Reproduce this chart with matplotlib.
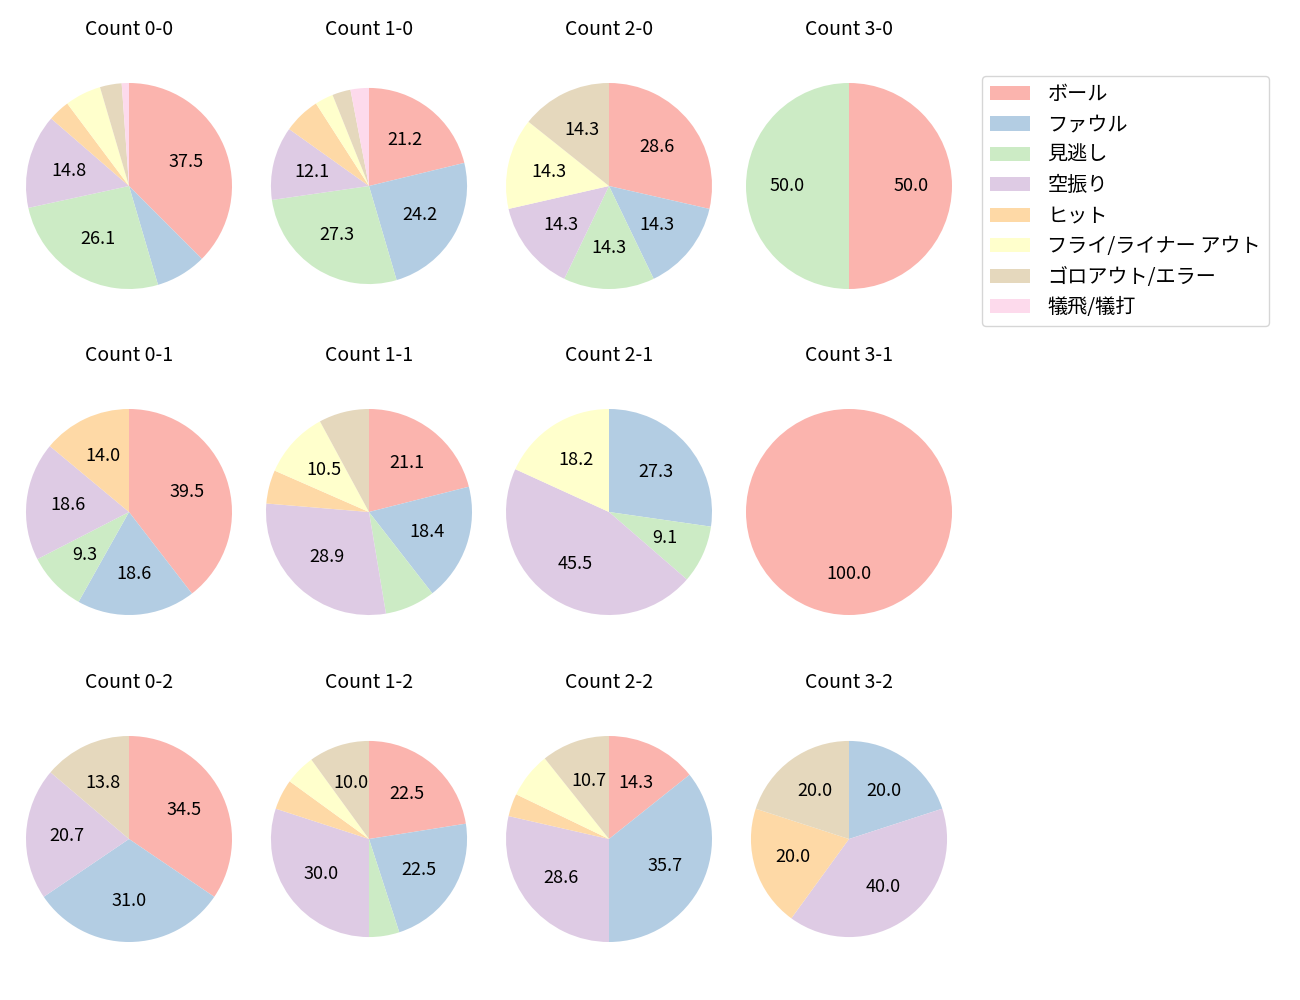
import matplotlib
matplotlib.use("Agg")
import matplotlib.pyplot as plt

plt.rcParams['font.family'] = ['Noto Sans CJK JP', 'DejaVu Sans']

categories = ['ボール', 'ファウル', '見逃し', '空振り', 'ヒット',
              'フライ/ライナー アウト', 'ゴロアウト/エラー', '犠飛/犠打']
colors = ['#fbb4ae', '#b3cde3', '#ccebc5', '#decbe4', '#fed9a6',
          '#ffffcc', '#e5d8bd', '#fddaec']

titles = ['Count 0-0', 'Count 1-0', 'Count 2-0', 'Count 3-0',
          'Count 0-1', 'Count 1-1', 'Count 2-1', 'Count 3-1',
          'Count 0-2', 'Count 1-2', 'Count 2-2', 'Count 3-2']

# counts per category (same order as categories)
count_0_0 = [33, 7, 23, 13, 3, 5, 3, 1]
count_1_0 = [7, 8, 9, 4, 2, 1, 1, 1]
count_2_0 = [2, 1, 1, 1, 0, 1, 1, 0]
count_3_0 = [1, 0, 1, 0, 0, 0, 0, 0]
count_0_1 = [17, 8, 4, 8, 6, 0, 0, 0]
count_1_1 = [8, 7, 3, 11, 2, 4, 3, 0]
count_2_1 = [0, 3, 1, 5, 0, 2, 0, 0]
count_3_1 = [1, 0, 0, 0, 0, 0, 0, 0]
count_0_2 = [10, 9, 0, 6, 0, 0, 4, 0]
count_1_2 = [9, 9, 2, 12, 2, 2, 4, 0]
count_2_2 = [4, 10, 0, 8, 1, 2, 3, 0]
count_3_2 = [0, 1, 0, 2, 1, 0, 1, 0]

all_counts = [count_0_0, count_1_0, count_2_0, count_3_0,
              count_0_1, count_1_1, count_2_1, count_3_1,
              count_0_2, count_1_2, count_2_2, count_3_2]

# style: relative pie radius per panel
radii = [1.0, 0.952, 1.0, 1.0,
         1.0, 1.0, 1.0, 1.0,
         1.0, 0.952, 1.0, 0.952]

W, H = 1300, 1000
fig = plt.figure(figsize=(13, 10), dpi=100)

cx = [129, 369, 609, 849]
cy = [186, 512, 839]
side = 257.5  # pixels; axes spans +-1.25 data units

def fmt(p):
    return f'{p:.1f}' if p >= 9 else ''

wedges_for_legend = None
for i, vals in enumerate(all_counts):
    r, c = divmod(i, 4)
    left = (cx[c] - side / 2) / W
    bottom = 1 - (cy[r] + side / 2) / H
    ax = fig.add_axes([left, bottom, side / W, side / H])
    w, _, _ = ax.pie(vals, colors=colors, startangle=90, counterclock=False,
                     autopct=fmt, pctdistance=0.6, radius=radii[i],
                     textprops={'fontsize': 13})
    ax.set_xlim(-1.25, 1.25)
    ax.set_ylim(-1.25, 1.25)
    ax.set_aspect('equal')
    ax.set_title(titles[i], fontsize=14, pad=16)
    if i == 0:
        wedges_for_legend = w

fig.legend(wedges_for_legend, categories, loc='upper left',
           bbox_to_anchor=(982 / W, 1 - 76 / H), borderaxespad=0,
           fontsize=14.5, labelspacing=0.47, handletextpad=0.85)

fig.savefig('out.png', dpi=100)
